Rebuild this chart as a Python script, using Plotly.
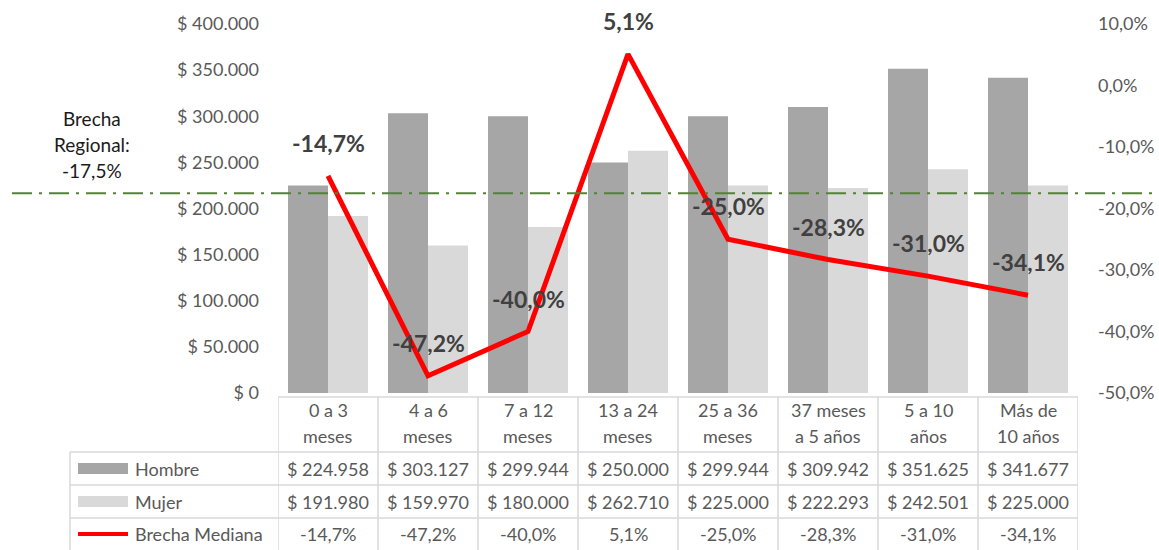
import plotly.graph_objects as go

# ---------------- data ----------------
categories = ["0 a 3<br>meses", "4 a 6<br>meses", "7 a 12<br>meses", "13 a 24<br>meses",
              "25 a 36<br>meses", "37 meses<br>a 5 años", "5 a 10<br>años", "Más de<br>10 años"]
hombre = [224958, 303127, 299944, 250000, 299944, 309942, 351625, 341677]
mujer = [191980, 159970, 180000, 262710, 225000, 222293, 242501, 225000]
brecha = [-14.7, -47.2, -40.0, 5.1, -25.0, -28.3, -31.0, -34.1]
brecha_regional = -17.5
left_ticks = [0, 50000, 100000, 150000, 200000, 250000, 300000, 350000, 400000]
right_ticks = [-50, -40, -30, -20, -10, 0, 10]
series_names = ["Hombre", "Mujer", "Brecha Mediana"]
regional_label = ["Brecha", "Regional:"]

# ---------------- helpers ----------------
W, H = 1159, 550


def px(x):
    return x / W


def py(y):
    return 1 - y / H


def money(v):
    return "$ " + f"{v:,}".replace(",", ".")


def pct(v):
    return f"{v:.1f}%".replace(".", ",")


FONT = "Lato"
TXT = "#595959"
C_H = "#A6A6A6"
C_M = "#D9D9D9"
GRID = "#D9D9D9"

xs = list(range(len(categories)))

fig = go.Figure()
fig.add_trace(go.Bar(x=xs, y=hombre, name="Hombre", marker_color=C_H, marker_line_width=0))
fig.add_trace(go.Bar(x=xs, y=mujer, name="Mujer", marker_color=C_M, marker_line_width=0))
fig.add_trace(go.Scatter(x=xs, y=brecha, name="Brecha Mediana", mode="lines", yaxis="y2",
                         line=dict(color="#FF0000", width=5), cliponaxis=False))

shapes = []
annotations = []

# regional gap line
shapes.append(dict(type="line", xref="paper", yref="y2", x0=px(12), x1=1, y0=brecha_regional,
                   y1=brecha_regional, line=dict(color="#548235", width=2, dash="20px,7px,3px,7px"),
                   layer="above"))
for i, t in enumerate(regional_label + [pct(brecha_regional)]):
    annotations.append(dict(xref="paper", yref="paper", x=px(92), y=py(119 + 25.5 * i), text=t,
                            showarrow=False, font=dict(family=FONT, size=19, color="#1a1a1a"),
                            xanchor="center", yanchor="middle"))

# data labels for the gap line
for i, v in enumerate(brecha):
    annotations.append(dict(xref="x", yref="y2", x=i, y=v, text="<b>" + pct(v) + "</b>",
                            showarrow=False, yshift=33, font=dict(family=FONT, size=23, color="#404040"),
                            xanchor="center", yanchor="middle"))

# ---------------- data table ----------------
y_top, y_h, y_m, y_b, y_bot = 397, 452, 485, 518, 550
tleft = 70
n = len(categories)
# horizontal lines
shapes.append(dict(type="line", xref="x", yref="paper", x0=-0.5, x1=n - 0.5, y0=py(y_top), y1=py(y_top),
                   line=dict(color=GRID, width=1.5)))
for yy in (y_h, y_m, y_b):
    shapes.append(dict(type="line", xref="paper", yref="paper", x0=px(tleft), x1=px(1078),
                       y0=py(yy), y1=py(yy), line=dict(color=GRID, width=1.5)))
# vertical lines
for i in range(n + 1):
    shapes.append(dict(type="line", xref="x", yref="paper", x0=i - 0.5, x1=i - 0.5, y0=py(y_top),
                       y1=py(y_bot), line=dict(color=GRID, width=1.5)))
shapes.append(dict(type="line", xref="paper", yref="paper", x0=px(tleft), x1=px(tleft), y0=py(y_h),
                   y1=py(y_bot), line=dict(color=GRID, width=1.5)))

# header (category labels)
for i, c in enumerate(categories):
    lines = c.split("<br>")
    for j, t in enumerate(lines):
        annotations.append(dict(xref="x", yref="paper", x=i, y=py(410 + 26 * j), text=t, showarrow=False,
                                font=dict(family=FONT, size=18, color=TXT), xanchor="center",
                                yanchor="middle"))

rows = [(hombre, money), (mujer, money), (brecha, pct)]
row_mid = [(y_h + y_m) / 2, (y_m + y_b) / 2, (y_b + y_bot) / 2]
for (vals, f), ym in zip(rows, row_mid):
    for i, v in enumerate(vals):
        annotations.append(dict(xref="x", yref="paper", x=i, y=py(ym), text=f(v), showarrow=False,
                                font=dict(family=FONT, size=18, color=TXT), xanchor="center",
                                yanchor="middle"))

# legend keys inside the table
for k, (name, ym) in enumerate(zip(series_names, row_mid)):
    if k < 2:
        shapes.append(dict(type="rect", xref="paper", yref="paper", x0=px(78), x1=px(128),
                           y0=py(ym - 5.5), y1=py(ym + 5.5), fillcolor=[C_H, C_M][k], line=dict(width=0)))
    else:
        shapes.append(dict(type="line", xref="paper", yref="paper", x0=px(78), x1=px(128),
                           y0=py(ym), y1=py(ym), line=dict(color="#FF0000", width=4)))
    annotations.append(dict(xref="paper", yref="paper", x=px(133), y=py(ym), text=name, showarrow=False,
                            font=dict(family=FONT, size=18, color=TXT), xanchor="left", yanchor="middle"))

fig.update_layout(
    width=W, height=H, autosize=False,
    margin=dict(l=0, r=0, t=0, b=0, pad=0, autoexpand=False),
    paper_bgcolor="white", plot_bgcolor="white",
    showlegend=False, barmode="group", bargap=0.2, bargroupgap=0,
    font=dict(family=FONT, size=18, color=TXT),
    xaxis=dict(domain=[px(278), px(1078)], range=[-0.5, n - 0.5], showticklabels=False,
               showgrid=False, zeroline=False, showline=False, fixedrange=True, automargin=False),
    yaxis=dict(domain=[py(393), py(24)], range=[0, 400000], tickvals=left_ticks,
               ticktext=[money(v) for v in left_ticks], showgrid=False, zeroline=False,
               showline=False, ticks="", ticklabelstandoff=18, automargin=False,
               tickfont=dict(family=FONT, size=18, color=TXT)),
    yaxis2=dict(overlaying="y", side="right", anchor="x", range=[-50, 10], tickvals=right_ticks,
                ticktext=[pct(v) for v in right_ticks], showgrid=False, zeroline=False,
                showline=False, ticks="", ticklabelstandoff=19, automargin=False,
                tickfont=dict(family=FONT, size=18, color=TXT)),
    shapes=shapes, annotations=annotations,
)

fig.write_html("out.html", config={"displayModeBar": False},
               post_script="document.body.style.margin='0';")
